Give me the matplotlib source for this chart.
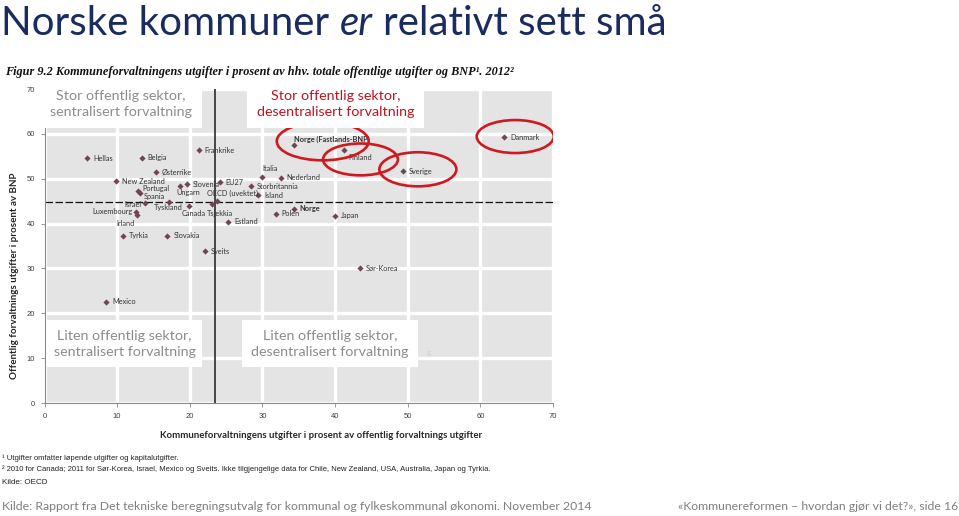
import matplotlib
matplotlib.use("Agg")
import matplotlib.pyplot as plt
from matplotlib.patches import Ellipse, Rectangle

# ---------------- data ----------------
countries = ["Hellas", "Belgia", "Frankrike", "Østerrike", "New Zealand", "Portugal",
             "Spania", "Slovenia", "Ungarn", "EU27", "OECD (uvektet)", "Tsjekkia",
             "Storbritannia", "Island", "Italia", "Nederland", "Israel", "Tyskland",
             "Luxembourg", "Irland", "Canada", "Estland", "Tyrkia", "Slovakia", "Sveits",
             "Polen", "Norge", "Japan", "Sør-Korea", "Mexico", "Norge (Fastlands-BNP)",
             "Finland", "Sverige", "Danmark"]
kommune_share = [5.85, 13.4, 21.25, 15.3, 9.9, 12.9, 13.1, 19.6, 18.7, 24.1, 23.7, 23.0,
                 28.4, 29.4, 29.9, 32.5, 13.9, 17.2, 12.6, 12.8, 19.9, 25.3, 10.85, 16.9,
                 22.1, 31.8, 34.3, 39.95, 43.4, 8.46, 34.3, 41.2, 49.35, 63.3]
offentlig_bnp = [54.6, 54.7, 56.3, 51.5, 49.4, 47.2, 46.8, 48.8, 48.3, 49.2, 45.05, 44.3,
                 48.3, 46.3, 50.4, 50.2, 44.5, 44.9, 42.5, 41.9, 43.9, 40.4, 37.3, 37.3,
                 33.8, 42.2, 43.2, 41.7, 30.0, 22.6, 57.5, 56.3, 51.7, 59.2]
bold_labels = ["Norge", "Norge (Fastlands-BNP)"]
circled = ["Norge (Fastlands-BNP)", "Finland", "Sverige", "Danmark"]
avg_x = 23.45
avg_y = 44.8
x_ticks = [0, 10, 20, 30, 40, 50, 60, 70]
y_ticks = [0, 10, 20, 30, 40, 50, 60, 70]

title_parts = ["Norske kommuner", "er", "relativt sett små"]
subtitle = "Figur 9.2 Kommuneforvaltningens utgifter i prosent av hhv. totale offentlige utgifter og BNP¹. 2012²"
xlabel = "Kommuneforvaltningens utgifter i prosent av offentlig forvaltnings utgifter"
ylabel = "Offentlig forvaltnings utgifter i prosent av BNP"
foot1 = "¹ Utgifter omfatter løpende utgifter og kapitalutgifter."
foot2 = "² 2010 for Canada; 2011 for Sør-Korea, Israel, Mexico og Sveits. Ikke tilgjengelige data for Chile, New Zealand, USA, Australia, Japan og Tyrkia."
foot3 = "Kilde: OECD"
source = "Kilde: Rapport fra Det tekniske beregningsutvalg for kommunal og fylkeskommunal økonomi. November 2014"
slide = "«Kommunereformen – hvordan gjør vi det?», side 16"
quadrants = ["Stor offentlig sektor,\nsentralisert forvaltning",
             "Stor offentlig sektor,\ndesentralisert forvaltning",
             "Liten offentlig sektor,\nsentralisert forvaltning",
             "Liten offentlig sektor,\ndesentralisert forvaltning"]

# ---------------- layout (pixels) ----------------
W, H = 959, 516
def fx(px): return px / W
def fy(py): return 1 - py / H

# label offsets in pixels (dx, dy up), ha
label_pos = {
    "Portugal": (4, 3, "left"), "Spania": (4, -3, "left"), "Ungarn": (-4, -6, "left"),
    "OECD (uvektet)": (-10, 8, "left"), "Tsjekkia": (-5, -9, "left"),
    "Italia": (1, 8, "left"), "Israel": (-4, -1, "right"), "Tyskland": (-16, -6, "left"),
    "Luxembourg": (-3, 1, "right"), "Irland": (-3, -8, "right"), "Canada": (-7, -7, "left"),
    "Norge (Fastlands-BNP)": (0, 6, "left"), "Finland": (5, -7, "left"),
    "Norge": (6, 1, "left"),
}
ellipse_geom = {  # center x, center y, width, height (data units)
    "Norge (Fastlands-BNP)": (38.3, 58.35, 12.65, 8.5),
    "Finland": (43.5, 54.3, 10.3, 7.1),
    "Sverige": (51.4, 52.1, 10.6, 7.6),
    "Danmark": (64.8, 59.4, 10.6, 7.35),
}

fig = plt.figure(figsize=(W / 100, H / 100), dpi=100)
fig.patch.set_facecolor("white")
ax = fig.add_axes([fx(44.5), fy(403), (553 - 44.5) / W, (403 - 89) / H])
ax.set_facecolor("#e4e4e4")
ax.set_xlim(0, 70)
ax.set_ylim(0, 70)
ax.set_xticks(x_ticks)
ax.set_yticks(y_ticks)
ax.grid(True, color="white", lw=2.4, zorder=0)
ax.set_axisbelow(True)
for s in ["top", "right"]:
    ax.spines[s].set_visible(False)
for s in ["left", "bottom"]:
    ax.spines[s].set_color("#8a8a8a")
    ax.spines[s].set_linewidth(0.8)
ax.tick_params(axis="both", length=3, width=0.6, color="#8a8a8a", labelsize=5.5,
               labelcolor="#404040", pad=4)
for lab in ax.get_xticklabels() + ax.get_yticklabels():
    lab.set_family("Liberation Sans")

ax.axvline(avg_x, color="#3a3a3a", lw=1.3, zorder=2)
ax.axhline(avg_y, color="#111111", lw=0.9, ls=(0, (6, 2)), zorder=2)

ax.scatter(kommune_share, offentlig_bnp, marker="D", s=10, color="#6e4650", zorder=4,
           linewidths=0)
for name, xv, yv in zip(countries, kommune_share, offentlig_bnp):
    dx, dy, ha = label_pos.get(name, (6, 0, "left"))
    ax.annotate(name, (xv, yv), xytext=(dx * 0.72, dy * 0.72), textcoords="offset points",
                ha=ha, va="center", fontsize=5.3, color="#333333", family="Lato",
                fontweight="bold" if name in bold_labels else "normal", zorder=5)

for name in circled:
    cx, cy, w, h = ellipse_geom[name]
    ax.add_patch(Ellipse((cx, cy), w, h, fill=False, edgecolor="#d01820", lw=1.9,
                         zorder=6))

# quadrant boxes: (x0, x1, y0, y1) in data, text color
boxes = [(-0.6, 21.7, 61.2, 71.9, "#8c8c8c"), (27.85, 52.3, 61.2, 71.9, "#c0141c"),
         (0.35, 21.7, 8.0, 18.5, "#8c8c8c"), (27.2, 51.4, 8.0, 18.5, "#8c8c8c")]
for (x0, x1, y0, y1, col), txt in zip(boxes, quadrants):
    ax.add_patch(Rectangle((x0, y0), x1 - x0, y1 - y0, facecolor="white", edgecolor="none",
                           clip_on=False, zorder=7))
    ax.text((x0 + x1) / 2, (y0 + y1) / 2, txt, ha="center", va="center", fontsize=10.3,
            color=col, family="Lato", linespacing=1.4, zorder=8, clip_on=False)
ax.text(52.6, 11.2, "g", fontsize=6, color="#cfcfcf", family="Lato", ha="left",
        va="center", zorder=8)

# axis labels
fig.text(fx(321), fy(436), xlabel, ha="center", va="center", fontsize=6.9, fontweight="bold",
         family="Lato", color="#262626")
fig.text(fx(15), fy(276), ylabel, ha="center", va="center", rotation=90, fontsize=7.1,
         fontweight="bold", family="Lato", color="#262626")

# title with italic "er"
renderer = fig.canvas.get_renderer()
tcol = "#1a2c5e"
tsize = 29
xpos = fx(1)
tt = fig.text(0, 0, "a a", fontsize=tsize, family="Lato")
ta = fig.text(0, 0, "aa", fontsize=tsize, family="Lato")
space = (tt.get_window_extent(renderer).width - ta.get_window_extent(renderer).width) / W
tt.remove(); ta.remove()
for i, part in enumerate(title_parts):
    t = fig.text(xpos, fy(35), part, fontsize=tsize, family="Lato", color=tcol,
                 style="italic" if i == 1 else "normal", va="baseline", ha="left")
    xpos += t.get_window_extent(renderer).width / W + space

fig.text(fx(5), fy(72), subtitle, fontsize=8.8, family="Liberation Serif", style="italic",
         fontweight="bold", color="#111111", va="center", ha="left")

fig.text(fx(2), fy(458), foot1, fontsize=5.5, family="Liberation Sans", color="#222222",
         va="center")
fig.text(fx(2), fy(469), foot2, fontsize=5.5, family="Liberation Sans", color="#222222",
         va="center")
fig.text(fx(2), fy(483), foot3, fontsize=5.9, family="Liberation Sans", color="#222222",
         va="center")
fig.text(fx(2), fy(507), source, fontsize=8.8, family="Lato", color="#7f7f7f", va="center")
fig.text(fx(958), fy(507), slide, fontsize=8.8, family="Lato", color="#7f7f7f",
         va="center", ha="right")

fig.savefig("out.png", dpi=100, facecolor="white")
